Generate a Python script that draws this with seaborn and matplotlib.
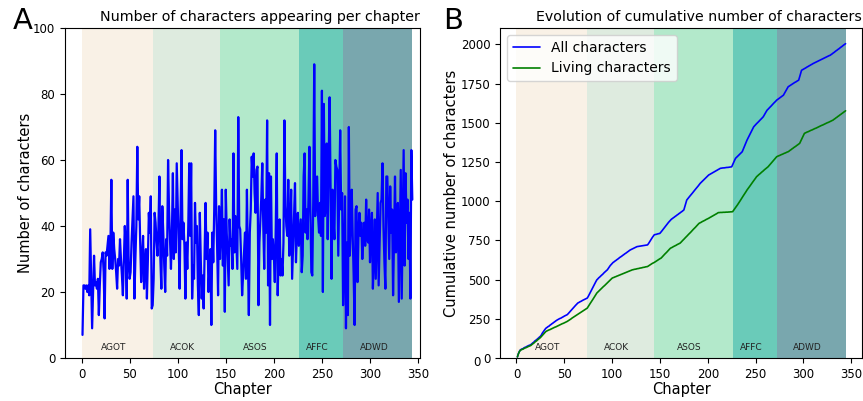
import numpy as np
import pandas as pd
import seaborn as sns
import matplotlib.pyplot as plt

# Books and where they start/end (chapter index)
books = ["AGOT", "ACOK", "ASOS", "AFFC", "ADWD"]
book_edges = [0, 74, 144, 226, 272, 344]
book_colors = ["#f9f1e6", "#deebdf", "#b3e9cb", "#6acbb9", "#79a7ae"]

# Characters appearing per chapter
agot = [7, 22, 22, 21, 22, 20, 22, 19, 39, 24, 9, 20, 31, 22, 23, 21, 24, 13, 22, 29,
        30, 32, 26, 12, 32, 31, 34, 37, 27, 33, 54, 27, 38, 33, 30, 26, 21, 30, 28, 36,
        30, 25, 19, 30, 40, 33, 18, 54, 29, 24, 26, 35, 42, 49, 18, 30, 40, 64, 42, 49,
        35, 23, 31, 37, 21, 28, 33, 18, 30, 44, 38, 49, 15]
acok = [16, 24, 44, 41, 35, 31, 40, 55, 30, 21, 46, 38, 28, 20, 36, 31, 60, 45, 36, 27,
        38, 56, 30, 45, 32, 59, 47, 35, 21, 44, 63, 36, 41, 34, 18, 35, 27, 40, 59, 37,
        59, 18, 28, 24, 47, 35, 40, 22, 13, 44, 30, 18, 25, 15, 32, 47, 30, 38, 20, 27,
        33, 10, 38, 29, 45, 69, 46, 34, 19, 46]
asos = [30, 38, 51, 28, 42, 14, 51, 38, 30, 22, 42, 34, 36, 27, 62, 32, 43, 35, 27, 73,
        40, 39, 30, 19, 25, 32, 38, 24, 51, 30, 13, 38, 45, 61, 55, 62, 50, 44, 57, 58,
        16, 35, 42, 49, 59, 40, 27, 48, 38, 72, 22, 56, 10, 55, 30, 36, 31, 23, 40, 62,
        19, 33, 42, 25, 30, 25, 35, 72, 46, 40, 37, 54, 31, 40, 51, 24, 33, 43, 53, 29,
        38, 44]
affc = [34, 38, 42, 26, 31, 55, 62, 38, 45, 36, 48, 64, 46, 26, 25, 48, 89, 43, 49, 55,
        43, 38, 47, 37, 81, 20, 77, 43, 46, 65, 36, 60, 79, 52, 24, 51, 42, 36, 60, 58,
        57, 31, 50, 69, 45, 50]
adwd = [16, 28, 49, 9, 35, 13, 70, 31, 40, 51, 37, 25, 10, 45, 46, 23, 38, 44, 37, 41,
        30, 37, 41, 34, 48, 36, 35, 45, 29, 38, 44, 21, 30, 42, 24, 37, 50, 22, 35, 47,
        48, 59, 40, 29, 21, 55, 55, 42, 30, 52, 38, 45, 19, 36, 55, 32, 40, 47, 17, 36,
        57, 18, 40, 63, 28, 56, 41, 48, 30, 44, 18, 63, 48]

# New characters introduced per chapter (estimated from the cumulative curves)
new_all = [7, 20, 14, 10,
           4, 3, 2, 5, 3, 2, 4, 3, 3, 2, 3,
           5, 6, 4, 7, 5, 4, 6, 5, 6, 5,
           8, 12, 9, 10, 7, 7,
           4, 5, 3, 6, 4, 5, 4, 5, 4, 5, 4, 4,
           3, 4, 2, 3, 4, 3, 4, 3, 3, 3,
           6, 7, 8, 6, 7, 7, 6, 7, 7, 6, 7,
           3, 4, 3, 3, 4, 3, 3, 3, 3, 3,
           10, 12, 11, 14, 12, 10, 13, 12, 11, 11,
           6, 7, 5, 6, 6, 5, 7, 6, 5, 6, 5,
           9, 8, 10, 7, 8,
           5, 4, 5, 4, 5, 4, 5, 5, 4, 4, 5, 4, 5, 4, 4, 5, 4, 5, 4,
           3, 3, 3, 3, 3, 3, 3,
           1, 1, 1, 1, 1, 1, 1, 1, 1, 1, 1,
           8, 10, 9, 11, 9, 8, 9,
           2, 1, 2, 2, 1, 2,
           7, 8, 8, 7, 9, 8, 7, 8, 8, 7, 8,
           5, 4, 5, 4, 5, 4, 5, 4, 5, 4, 5, 4, 5, 5,
           20, 22, 21,
           8, 7, 8, 7, 8, 7, 8,
           7, 8, 7, 8, 7, 8, 8,
           6, 6, 6, 6, 6, 6, 6, 6, 6,
           3, 4, 3, 4, 3, 4, 3, 4, 3, 4, 3, 4,
           1, 1, 1, 0, 1, 1, 1, 0, 1, 1, 1, 1,
           14, 13, 14, 13,
           6, 6, 6, 6, 6, 6, 6,
           15, 14, 15, 15, 15,
           12, 13, 12, 12, 12, 12, 12,
           7, 6, 7, 6, 6, 7, 6, 6, 7, 6,
           11, 10, 11, 10,
           6, 7, 6, 6, 7, 6, 7, 6, 6, 7,
           4, 5, 4, 5, 4, 5, 4,
           11, 10, 11, 11, 11,
           4, 4, 4, 4, 4, 4, 4, 3, 4, 4, 3,
           21, 21, 21,
           4, 3, 4, 3, 4, 4, 3, 4, 3, 4, 3, 4,
           3, 3, 3, 3, 3, 3, 3, 3, 3, 3, 3, 3, 3, 3, 3, 3, 3, 2,
           5, 4, 5, 4, 5, 5, 4, 5, 4, 5, 5, 4, 5, 5, 4, 5]
new_living = [7, 19, 14, 9,
              3, 3, 2, 4, 3, 2, 3, 3, 3, 2, 3,
              5, 5, 4, 6, 5, 4, 6, 5, 5, 5,
              7, 8, 7, 6, 6, 6,
              3, 3, 3, 2, 3, 3, 3, 3, 3, 2, 3, 3, 3, 3, 3, 3, 3, 2, 3, 3, 3, 3,
              4, 4, 4, 4, 5, 4, 4, 4, 4, 4, 4, 4, 4, 4, 4, 4, 4, 4, 4, 4, 4,
              10, 9, 10, 9, 10, 9, 10, 9, 10, 10,
              6, 6, 6, 6, 6, 6, 6, 5, 6, 6, 6, 6, 6, 6, 6, 6,
              3, 2, 3, 2, 3, 2, 3, 2, 3, 2, 3, 2, 3, 2, 3, 2, 3, 2, 3, 2, 3,
              1, 2, 1, 1, 2, 1, 1, 2, 1, 1, 2, 1, 1, 2, 1, 1,
              4, 4, 4, 4, 4, 3, 3,
              4, 4, 4, 4, 4, 4, 3,
              6, 7, 6, 7, 6, 6, 7, 6, 7, 6,
              3, 3, 4, 3, 3, 3, 4, 3, 3, 3,
              6, 7, 6, 6, 7, 6, 6, 7, 6, 6,
              6, 7, 6, 7, 6, 6, 7, 6, 7, 6,
              3, 3, 4, 3, 3, 3, 4, 3, 3, 3,
              4, 3, 4, 3, 4, 3, 4, 3, 4, 4,
              0, 1, 0, 0, 1, 0, 0, 1, 0, 0, 1, 0, 1, 0, 1,
              9, 8, 9, 8, 9,
              9, 10, 9, 10, 9, 10, 9, 10, 9, 10,
              8, 9, 8, 9, 8, 9, 8, 9, 8, 9,
              5, 6, 5, 5, 6, 5, 5, 6, 5, 5, 5, 5,
              7, 7, 7, 7, 8, 7, 7, 7, 7,
              3, 3, 2, 3, 3, 2, 3, 3, 2, 3, 3, 2,
              4, 5, 4, 5, 4, 5, 4, 4, 5, 4, 5, 4,
              13, 13, 13, 13, 12,
              3, 3, 3, 2, 3, 3, 3, 2, 3, 3, 3, 2, 3, 3, 3,
              3, 3, 3, 2, 3, 3, 3, 3, 3, 2, 3, 3, 3, 3, 3,
              5, 4, 5, 4, 5, 4, 5, 4, 5, 4, 5, 4, 5]

per_chapter = agot + acok + asos + affc + adwd
chapters = np.arange(1, len(per_chapter) + 1)

df = pd.DataFrame({"Chapter": chapters, "Characters": per_chapter})
cum = pd.DataFrame({
    "Chapter": np.arange(1, len(new_all) + 1),
    "All": np.cumsum(new_all),
})
cum_living = pd.DataFrame({
    "Chapter": np.arange(1, len(new_living) + 1),
    "Living": np.cumsum(new_living),
})

sns.set_style("ticks")
plt.rcParams["font.family"] = ["DejaVu Sans"]
plt.rcParams["text.color"] = "black"
plt.rcParams["axes.labelcolor"] = "black"
plt.rcParams["xtick.color"] = "black"
plt.rcParams["ytick.color"] = "black"
plt.rcParams["axes.edgecolor"] = "black"

W, H = 863, 401
fig = plt.figure(figsize=(W / 100, H / 100), dpi=100)
ax1 = fig.add_axes([65 / W, 43 / H, 355 / W, 330 / H])
ax2 = fig.add_axes([500 / W, 43 / H, 362 / W, 330 / H])


def shade_books(ax):
    for i, name in enumerate(books):
        a, b = book_edges[i], book_edges[i + 1]
        ax.axvspan(a, b, color=book_colors[i], lw=0, zorder=0)
        ax.text((a + b) / 2 - 4, 0.033, name, transform=ax.get_xaxis_transform(),
                ha="center", va="center", fontsize=6.5, color="#222222")


# Panel A
shade_books(ax1)
sns.lineplot(data=df, x="Chapter", y="Characters", ax=ax1, color="blue", lw=1.6)
ax1.set_ylim(0, 100)
ax1.set_xlim(-17.2, 352)
ax1.set_xticks(range(0, 351, 50))
ax1.set_yticks(range(0, 101, 20))
ax1.set_xlabel("Chapter", fontsize=10.5, labelpad=1)
ax1.set_ylabel("Number of characters", fontsize=10.5, labelpad=0)
ax1.set_title("Number of characters appearing per chapter", fontsize=10.25, loc="right", pad=5)

# Panel B
shade_books(ax2)
sns.lineplot(data=cum, x="Chapter", y="All", ax=ax2, color="blue", lw=1.2, label="All characters")
sns.lineplot(data=cum_living, x="Chapter", y="Living", ax=ax2, color="green", lw=1.2,
             label="Living characters")
ax2.set_ylim(bottom=0)
ax2.set_xticks(range(0, 351, 50))
ax2.set_yticks(range(0, 2001, 250))
ax2.set_xlabel("Chapter", fontsize=10.5, labelpad=1)
ax2.set_ylabel("Cumulative number of characters", fontsize=10.5, labelpad=1)
ax2.set_title("Evolution of cumulative number of characters", fontsize=10.2, loc="right", pad=5)
ax2.legend(loc="upper left", fontsize=10, framealpha=0.8)

for ax in (ax1, ax2):
    ax.tick_params(labelsize=8.5, length=3.5)
    for s in ax.spines.values():
        s.set_linewidth(0.8)

fig.text(13 / W, 1 - 21 / H, "A", fontsize=21, va="center", ha="left")
fig.text(443 / W, 1 - 21 / H, "B", fontsize=21, va="center", ha="left")
fig.text(477 / W, 1 - 363 / H, "0", fontsize=8.5, va="center", ha="center")

fig.savefig("out.png", dpi=100)
